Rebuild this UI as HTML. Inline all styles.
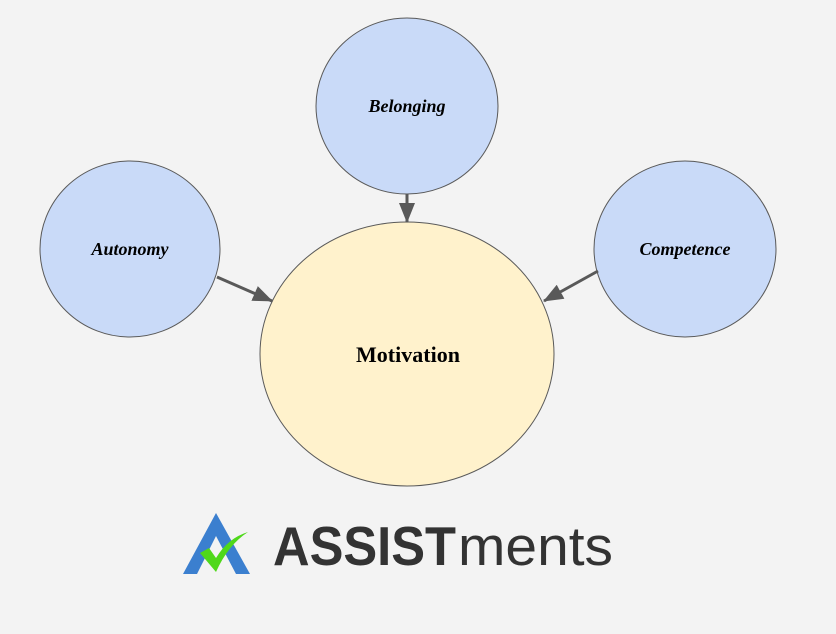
<!DOCTYPE html>
<html><head><style>html,body{margin:0;padding:0;background:#f3f3f3}</style></head>
<body>
<svg width="836" height="634" xmlns="http://www.w3.org/2000/svg" style="display:block">
<defs><marker id="a" markerWidth="10" markerHeight="10" refX="9" refY="5" orient="auto" markerUnits="userSpaceOnUse" viewBox="0 0 10 10"><path d="M0,0 L10,5 L0,10 z" fill="#595959"/></marker>
<marker id="b" markerWidth="20" markerHeight="16" refX="19" refY="8" orient="auto" markerUnits="userSpaceOnUse"><path d="M0,0 L20,8 L0,16 z" fill="#595959"/></marker></defs>
<rect width="836" height="634" fill="#f3f3f3"/>
<ellipse cx="407" cy="106" rx="91" ry="88" fill="#c9daf8" stroke="#595959" stroke-width="1"/>
<ellipse cx="130" cy="249" rx="90" ry="88" fill="#c9daf8" stroke="#595959" stroke-width="1"/>
<ellipse cx="685" cy="249" rx="91" ry="88" fill="#c9daf8" stroke="#595959" stroke-width="1"/>
<ellipse cx="407" cy="354" rx="147" ry="132" fill="#fff2cc" stroke="#595959" stroke-width="1"/>
<line x1="407" y1="194" x2="407" y2="222" stroke="#595959" stroke-width="3" marker-end="url(#b)"/>
<line x1="217" y1="277" x2="272" y2="301" stroke="#595959" stroke-width="3" marker-end="url(#b)"/>
<line x1="598" y1="271" x2="544" y2="301" stroke="#595959" stroke-width="3" marker-end="url(#b)"/>
<g font-family="Liberation Serif, serif" font-weight="bold" font-style="italic" font-size="18" text-anchor="middle">
<text x="407" y="112">Belonging</text>
<text x="130" y="255">Autonomy</text>
<text x="685" y="255">Competence</text>
</g>
<text x="408" y="362" font-family="Liberation Serif, serif" font-weight="bold" font-size="22" text-anchor="middle">Motivation</text>
<path d="M183,574 L216,513 L250,574 L236,574 L216,536 L197,574 z" fill="#3b7fcf"/>
<path d="M200,553 L209,548 L216,558 Q228,538 248,532 Q228,545 216,572 z" fill="#4fd81a"/>
<text x="273" y="565" font-family="Liberation Sans, sans-serif" font-weight="bold" font-size="55" fill="#333" textLength="183" lengthAdjust="spacingAndGlyphs">ASSIST</text>
<text x="458" y="565" font-family="Liberation Sans, sans-serif" font-size="55" fill="#333" textLength="155" lengthAdjust="spacingAndGlyphs">ments</text>
</svg>
</body></html>
